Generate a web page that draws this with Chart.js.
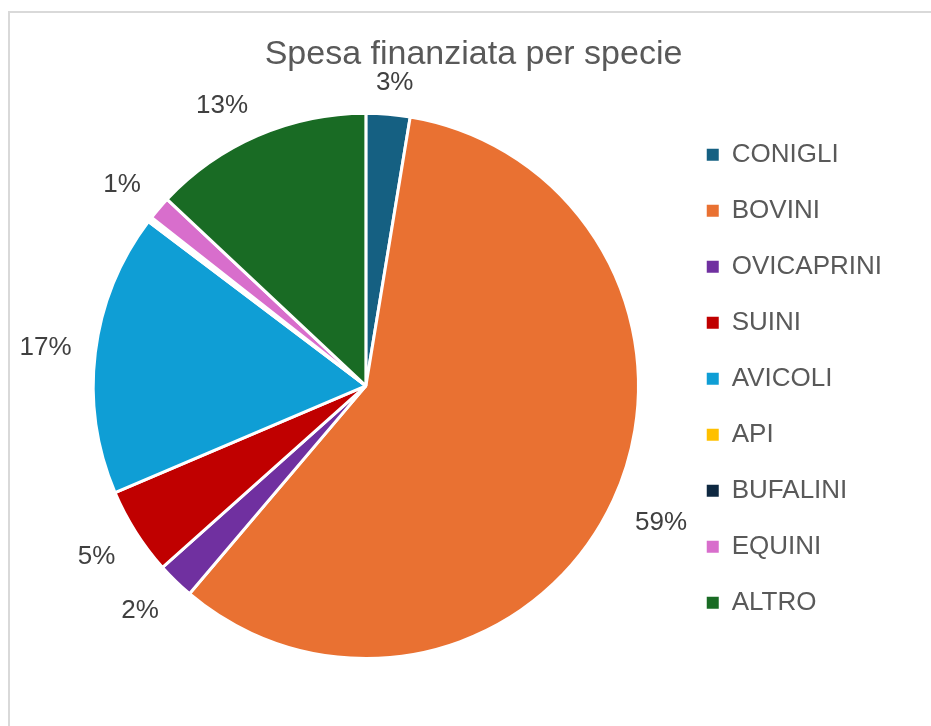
<!DOCTYPE html>
<html>
<head>
<meta charset="utf-8">
<script src="https://cdn.jsdelivr.net/npm/chart.js@4.4.1/dist/chart.umd.min.js"></script>
<style>
  body { margin: 0; background: #fff; }
  #wrap { position: relative; width: 931px; height: 726px; }
</style>
</head>
<body>
<div id="wrap"><canvas id="myChart"></canvas></div>
<script>
var labels = ['CONIGLI', 'BOVINI', 'OVICAPRINI', 'SUINI', 'AVICOLI', 'API', 'BUFALINI', 'EQUINI', 'ALTRO'];
// share of financed spending, %
var share = [2.6, 58.6, 2.2, 5.2, 16.7, 0.15, 0.15, 1.4, 13.0];
var colors = ['#156082', '#E97132', '#7030A0', '#C00000', '#0F9ED5', '#FFC000', '#0E2841', '#D86ECC', '#196B24'];
var chartTitle = 'Spesa finanziata per specie';
var fontFam = '"Liberation Sans", Arial, sans-serif';

// light grey frame around the chart
var frame = {
    id: 'frame',
    beforeDraw: function (chart) {
        var ctx = chart.ctx;
        ctx.save();
        ctx.strokeStyle = '#d9d9d9';
        ctx.lineWidth = 2;
        ctx.strokeRect(9, 12, 2000, 2000);
        ctx.restore();
    }
};

// percentage labels outside the slices (box corner anchored, like Excel "outside end")
var pctLabels = {
    id: 'pctLabels',
    afterDatasetsDraw: function (chart) {
        var ctx = chart.ctx;
        var meta = chart.getDatasetMeta(0);
        var total = share.reduce(function (a, b) { return a + b; }, 0);
        ctx.save();
        ctx.font = '26px ' + fontFam;
        ctx.fillStyle = '#404040';
        ctx.textAlign = 'center';
        ctx.textBaseline = 'alphabetic';
        meta.data.forEach(function (arc, i) {
            var pct = Math.round(share[i] / total * 100);
            if (pct === 0) return;
            var txt = pct + '%';
            var mid = (arc.startAngle + arc.endAngle) / 2;
            var c = Math.cos(mid), s = Math.sin(mid);
            var r = arc.outerRadius + 24;
            var px = arc.x + c * r, py = arc.y + s * r;
            var hw = ctx.measureText(txt).width / 2, hh = 10;
            var x = px + Math.sign(c) * hw * Math.min(1, Math.abs(c) * 3);
            var y = py + Math.sign(s) * hh * Math.min(1, Math.abs(s) * 3);
            ctx.fillText(txt, x, y + 9.3);
        });
        ctx.restore();
    }
};

var ctx = document.getElementById('myChart');
var chart = new Chart(ctx, {
    type: 'pie',
    data: {
        labels: labels,
        datasets: [{
            data: share,
            backgroundColor: colors,
            borderColor: '#ffffff',
            borderWidth: 3,
            hoverOffset: 0
        }]
    },
    options: {
        responsive: true,
        maintainAspectRatio: false,
        animation: false,
        layout: { padding: { left: 55, right: 39, top: 14, bottom: 66 } },
        plugins: {
            title: {
                display: true,
                text: chartTitle,
                color: '#595959',
                font: { size: 34, family: fontFam, weight: 'normal' },
                padding: { top: 20, bottom: 37 }
            },
            legend: {
                position: 'right',
                fullSize: false,
                align: 'start',
                labels: {
                    boxWidth: 12,
                    boxHeight: 12,
                    padding: 30,
                    color: '#595959',
                    font: { size: 26, family: fontFam },
                    generateLabels: function (chart) {
                        var items = Chart.overrides.pie.plugins.legend.labels.generateLabels(chart);
                        items.forEach(function (it) { it.lineWidth = 0; it.strokeStyle = it.fillStyle; });
                        return items;
                    }
                }
            },
            tooltip: { enabled: false }
        }
    },
    plugins: [frame, pctLabels]
});
</script>
</body>
</html>
